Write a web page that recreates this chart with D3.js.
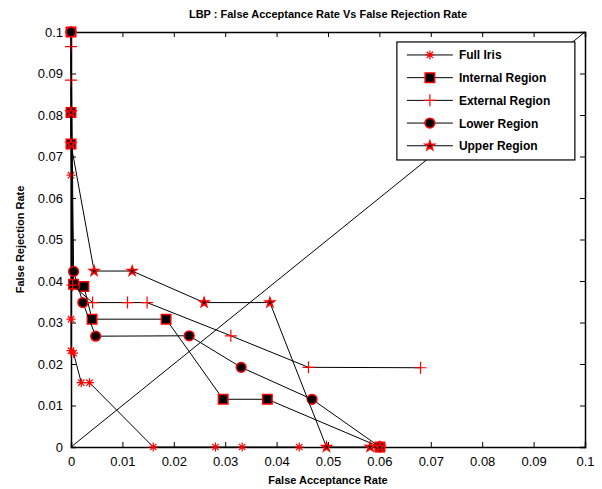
<!DOCTYPE html>
<html lang="en">
<head>
  <meta charset="UTF-8">
  <title>LBP : False Acceptance Rate Vs False Rejection Rate</title>
  <script src="https://d3js.org/d3.v7.min.js"></script>
  <style>
    body {
      margin: 0;
      background: white;
      font-family: Arial, "Liberation Sans", sans-serif;
    }
    .tick text {
      font-size: 13px;
      font-family: Arial, "Liberation Sans", sans-serif;
    }
    .series-line {
      fill: none;
      stroke: black;
      stroke-width: 1px;
    }
  </style>
</head>
<body>
  <svg id="chart" width="602" height="489"></svg>
  <script>
    const seriesNames = ["Full Iris", "Internal Region", "External Region", "Lower Region", "Upper Region"];
    const xTicks = [0, 0.01, 0.02, 0.03, 0.04, 0.05, 0.06, 0.07, 0.08, 0.09, 0.1];
    const yTicks = [0, 0.01, 0.02, 0.03, 0.04, 0.05, 0.06, 0.07, 0.08, 0.09, 0.1];

    // FAR (x) and FRR (y) per series
    const fullIrisX = [0, 0, 0, 0, 0.0005, 0.002, 0.0036, 0.016, 0.0281, 0.0333, 0.0444];
    const fullIrisY = [0.1, 0.0655, 0.0308, 0.0232, 0.0226, 0.0155, 0.0155, 0, 0, 0, 0];
    const internalX = [0, 0, 0, 0.0005, 0.0025, 0.0041, 0.0185, 0.0296, 0.0382, 0.0601];
    const internalY = [0.1, 0.0806, 0.073, 0.0392, 0.0387, 0.0308, 0.0308, 0.0115, 0.0115, 0];
    const externalX = [0, 0, 0, 0.0003, 0.0042, 0.011, 0.0148, 0.0311, 0.0462, 0.068];
    const externalY = [0.1, 0.0965, 0.0884, 0.039, 0.0348, 0.0348, 0.0348, 0.0268, 0.0192, 0.0191];
    const lowerX = [0, 0.0005, 0.0023, 0.0048, 0.023, 0.0331, 0.0469, 0.0601];
    const lowerY = [0.1, 0.0423, 0.0348, 0.0267, 0.0268, 0.0192, 0.0115, 0];
    const upperX = [0, 0, 0.0045, 0.0119, 0.0259, 0.0387, 0.0497, 0.0582, 0.0601];
    const upperY = [0.0806, 0.073, 0.0424, 0.0424, 0.0348, 0.0348, 0, 0, 0];

    const seriesX = [fullIrisX, internalX, externalX, lowerX, upperX];
    const seriesY = [fullIrisY, internalY, externalY, lowerY, upperY];
    const markerKinds = ["asterisk", "square", "plus", "circle", "star"];

    const margin = { top: 32, right: 17, bottom: 42, left: 71 },
          width = 602 - margin.left - margin.right,
          height = 489 - margin.top - margin.bottom;

    const root = d3.select("#chart");
    const svg = root.append("g")
      .attr("transform", `translate(${margin.left},${margin.top})`);

    const x = d3.scaleLinear().domain([0, 0.1]).range([0, width]);
    const y = d3.scaleLinear().domain([0, 0.1]).range([height, 0]);

    const fmt = d => d === 0 ? "0" : d3.format("")(+d.toFixed(2));

    // axes with inward ticks, MATLAB style, on all four sides
    svg.append("g")
      .attr("transform", `translate(0,${height})`)
      .call(d3.axisBottom(x).tickValues(xTicks).tickSize(-5).tickPadding(10).tickFormat(fmt));
    svg.append("g")
      .call(d3.axisTop(x).tickValues(xTicks).tickSize(-5).tickFormat(""));
    svg.append("g")
      .call(d3.axisLeft(y).tickValues(yTicks).tickSize(-5).tickPadding(8).tickFormat(fmt));
    svg.append("g")
      .attr("transform", `translate(${width},0)`)
      .call(d3.axisRight(y).tickValues(yTicks).tickSize(-5).tickFormat(""));

    svg.selectAll(".domain").attr("stroke", "black").attr("stroke-width", 1.5);
    svg.selectAll(".tick line").attr("stroke", "black");
    svg.selectAll(".tick text").attr("fill", "black");

    // equal error line
    svg.append("line")
      .attr("x1", x(0)).attr("y1", y(0))
      .attr("x2", x(0.1)).attr("y2", y(0.1))
      .attr("stroke", "black").attr("stroke-width", 1);

    const line = d3.line().x(d => x(d[0])).y(d => y(d[1]));

    const markerPath = {
      asterisk: "M-4.5,0H4.5M0,-4.5V4.5M-3.2,-3.2L3.2,3.2M-3.2,3.2L3.2,-3.2",
      plus: "M-6,0H6M0,-6V6",
      square: d3.symbol(d3.symbolSquare, 90)(),
      circle: d3.symbol(d3.symbolCircle, 75)(),
      star: d3.symbol(d3.symbolStar, 26)()
    };

    function drawMarker(g, kind, px, py) {
      const filled = kind === "square" || kind === "circle" || kind === "star";
      g.append("path")
        .attr("d", markerPath[kind])
        .attr("transform", `translate(${px},${py})`)
        .attr("fill", filled ? "black" : "none")
        .attr("stroke", "#ff0000")
        .attr("stroke-width", filled ? 1.5 : 1.2);
    }

    seriesNames.forEach((name, i) => {
      const pts = seriesX[i].map((v, j) => [v, seriesY[i][j]]);
      const g = svg.append("g");
      g.append("path")
        .attr("class", "series-line")
        .attr("d", line(pts));
      pts.forEach(p => drawMarker(g, markerKinds[i], x(p[0]), y(p[1])));
    });

    // legend
    const legend = svg.append("g")
      .attr("transform", `translate(${x(0.0634)},${y(0.0976)})`);
    legend.append("rect")
      .attr("width", 178).attr("height", 118)
      .attr("fill", "white").attr("stroke", "black").attr("stroke-width", 1.2);

    seriesNames.forEach((name, i) => {
      const row = legend.append("g").attr("transform", `translate(0,${13 + i * 22.7})`);
      row.append("line")
        .attr("x1", 10).attr("x2", 56)
        .attr("stroke", "black").attr("stroke-width", 1);
      drawMarker(row, markerKinds[i], 33, 0);
      row.append("text")
        .attr("x", 62).attr("y", 4.5)
        .attr("font-size", "12px").attr("font-weight", "bold")
        .text(name);
    });

    // title and axis labels
    root.append("text")
      .attr("x", margin.left + width / 2).attr("y", 18)
      .attr("text-anchor", "middle")
      .attr("font-size", "11px").attr("font-weight", "bold")
      .text("LBP : False Acceptance Rate Vs False Rejection Rate");

    root.append("text")
      .attr("x", margin.left + width / 2).attr("y", 484)
      .attr("text-anchor", "middle")
      .attr("font-size", "11px").attr("font-weight", "bold")
      .text("False Acceptance Rate");

    root.append("text")
      .attr("transform", `translate(24,${margin.top + height / 2}) rotate(-90)`)
      .attr("text-anchor", "middle")
      .attr("font-size", "11px").attr("font-weight", "bold")
      .text("False Rejection Rate");
  </script>
</body>
</html>
